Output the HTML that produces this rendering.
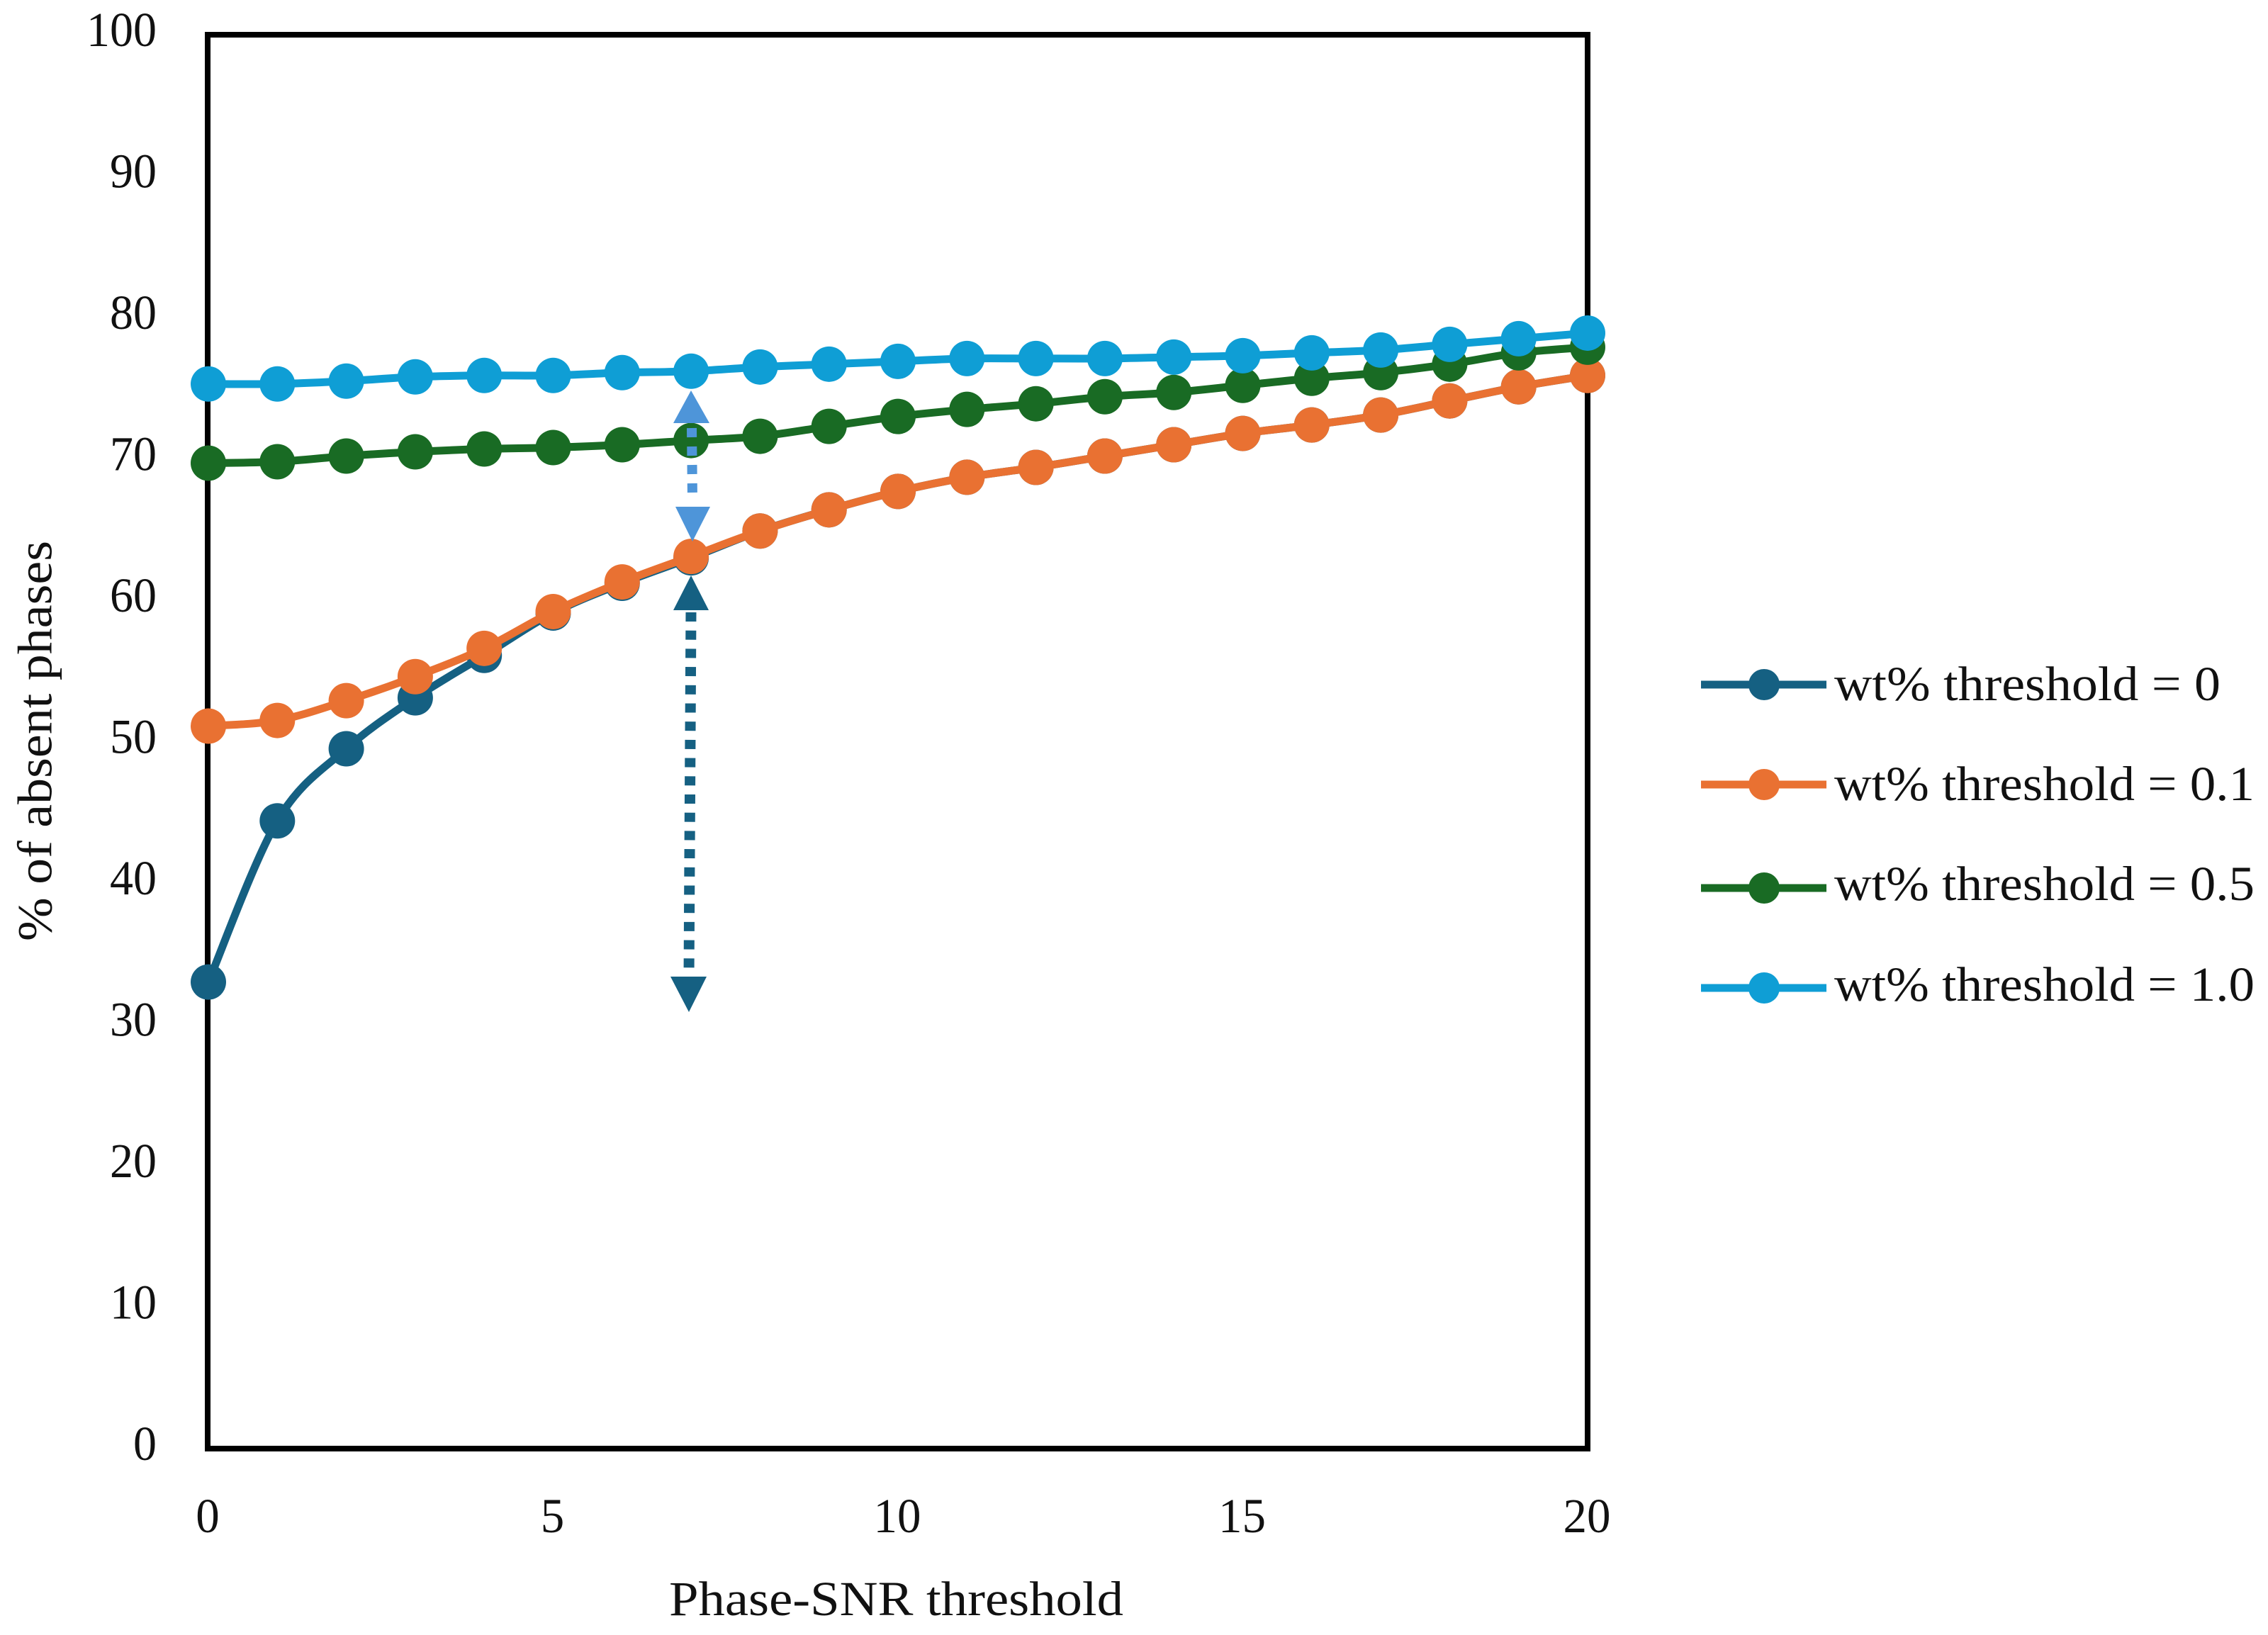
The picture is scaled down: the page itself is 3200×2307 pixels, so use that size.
<!DOCTYPE html>
<html lang="en">
<head>
<meta charset="utf-8">
<title>Percent of absent phases vs Phase-SNR threshold</title>
<style>
html,body{margin:0;padding:0;background:#fff;}
svg{display:block;}
text{font-family:"Liberation Serif",serif;fill:#111;font-size:69px;}
</style>
</head>
<body>
<svg id="chart" xmlns="http://www.w3.org/2000/svg" width="3200" height="2307" viewBox="0 0 3200 2307">
  <rect x="0" y="0" width="3200" height="2307" fill="#ffffff"/>
  <rect x="293" y="49" width="1947" height="1995" fill="none" stroke="#000" stroke-width="8"/>
  <g id="x-ticks"></g>
  <g id="y-ticks"></g>
  <g id="series"></g>
  <g id="arrows"></g>
  <g id="legend"></g>
  <text x="944" y="2279" textLength="641" lengthAdjust="spacingAndGlyphs">Phase-SNR threshold</text>
  <text transform="translate(72.5,1328) rotate(-90)" textLength="565" lengthAdjust="spacingAndGlyphs">% of absent phases</text>
</svg>
<script>
var xCategories = [0,1,2,3,4,5,6,7,8,9,10,11,12,13,14,15,16,17,18,19,20];
var xTickLabels = [0,5,10,15,20];
var yTickLabels = [0,10,20,30,40,50,60,70,80,90,100];
var seriesZero = [33.0,44.4,49.5,53.1,56.1,59.1,61.2,63.0,64.9,66.4,67.7,68.7,69.4,70.2,71.0,71.8,72.4,73.1,74.1,75.1,75.9];
var seriesPointOne = [51.1,51.5,52.9,54.6,56.6,59.2,61.3,63.1,64.9,66.4,67.7,68.7,69.4,70.2,71.0,71.8,72.4,73.1,74.1,75.1,75.9];
var seriesPointFive = [69.7,69.8,70.2,70.5,70.7,70.8,71.0,71.3,71.6,72.3,73.0,73.5,73.9,74.4,74.7,75.2,75.7,76.1,76.7,77.5,77.9];
var seriesOne = [75.3,75.3,75.5,75.8,75.9,75.9,76.1,76.2,76.5,76.7,76.9,77.1,77.1,77.1,77.2,77.3,77.5,77.7,78.1,78.5,78.9];
var seriesNames = ["wt% threshold = 0","wt% threshold = 0.1","wt% threshold = 0.5","wt% threshold = 1.0"];
var seriesColors = ["#156082","#E97132","#196B24","#0F9ED5"];
var seriesKeys = ["threshold-0","threshold-0-1","threshold-0-5","threshold-1-0"];
var seriesValues = [seriesZero,seriesPointOne,seriesPointFive,seriesOne];

var NS = "http://www.w3.org/2000/svg";
function sx(v){ return 294 + v * 97.3; }
function sy(v){ return 2044 - v * 19.95; }
function make(tag, attrs, parent){
  var el = document.createElementNS(NS, tag);
  for (var k in attrs) el.setAttribute(k, attrs[k]);
  parent.appendChild(el);
  return el;
}
function smoothPath(pts){
  var d = "M" + pts[0][0] + " " + pts[0][1];
  for (var i = 0; i < pts.length - 1; i++){
    var p0 = pts[Math.max(i-1,0)], p1 = pts[i], p2 = pts[i+1], p3 = pts[Math.min(i+2,pts.length-1)];
    var c1x = p1[0] + (p2[0]-p0[0])/6, c1y = p1[1] + (p2[1]-p0[1])/6;
    var c2x = p2[0] - (p3[0]-p1[0])/6, c2y = p2[1] - (p3[1]-p1[1])/6;
    d += " C" + c1x + " " + c1y + " " + c2x + " " + c2y + " " + p2[0] + " " + p2[1];
  }
  return d;
}

var xTicks = document.getElementById("x-ticks");
xTickLabels.forEach(function(v){
  var s = String(v), w = s.length * 33.5;
  var t = make("text", {x: sx(v) - 1 - w/2, y: 2162, textLength: w, lengthAdjust: "spacingAndGlyphs"}, xTicks);
  
  
  t.textContent = s;
});

var yTicks = document.getElementById("y-ticks");
yTickLabels.forEach(function(v){
  var s = String(v), w = s.length * 33;
  var t = make("text", {x: 221 - w, y: sy(v) + 16, textLength: w, lengthAdjust: "spacingAndGlyphs"}, yTicks);
  
  
  t.textContent = s;
});

var seriesRoot = document.getElementById("series");
seriesValues.forEach(function(vals, si){
  var g = make("g", {}, seriesRoot);
  
  
  var pts = xCategories.map(function(c, i){ return [sx(c), sy(vals[i])]; });
  var line = make("path", {d: smoothPath(pts), fill: "none", stroke: seriesColors[si], "stroke-width": 11, "stroke-linejoin": "round"}, g);
  
  
  pts.forEach(function(p){
    var m = make("circle", {cx: p[0], cy: p[1], r: 25, fill: seriesColors[si]}, g);
    
    
  });
});

var arrows = document.getElementById("arrows");
var lightLine = make("line", {x1: 976, y1: 604, x2: 977, y2: 706, stroke: "#4E95D9", "stroke-width": 14, "stroke-dasharray": "13 13"}, arrows);


var lightUp = make("polygon", {points: "975,551 1001,597 950,597", fill: "#4E95D9"}, arrows);


var lightDown = make("polygon", {points: "953,715 1002,715 977,764", fill: "#4E95D9"}, arrows);


var darkLine = make("line", {x1: 975, y1: 860, x2: 972, y2: 1380, stroke: "#156082", "stroke-width": 15, "stroke-dasharray": "13 12.7", "stroke-dashoffset": "-4"}, arrows);


var darkUp = make("polygon", {points: "975,812 1000,861 950,861", fill: "#156082"}, arrows);


var darkDown = make("polygon", {points: "946,1378 997,1378 972,1428", fill: "#156082"}, arrows);



var legendRoot = document.getElementById("legend");
var legendLineY = [966,1107,1253,1394];
var legendBaseY = [988,1129,1270,1412];
var legendTextWidth = [545,593,593,593];
seriesNames.forEach(function(name, i){
  var g = make("g", {}, legendRoot);
  
  
  var y = legendLineY[i];
  var l = make("line", {x1: 2400, y1: y, x2: 2577, y2: y, stroke: seriesColors[i], "stroke-width": 11}, g);
  
  
  var c = make("circle", {cx: 2489, cy: y, r: 22, fill: seriesColors[i]}, g);
  
  
  var t = make("text", {x: 2588, y: legendBaseY[i], textLength: legendTextWidth[i], lengthAdjust: "spacingAndGlyphs"}, g);
  
  
  t.textContent = name;
});
</script>
</body>
</html>
